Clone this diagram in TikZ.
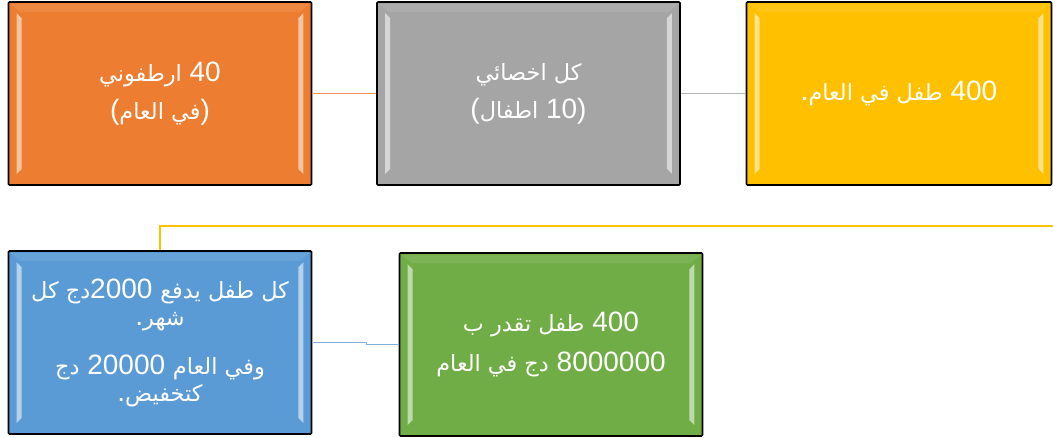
\documentclass[tikz,border=0pt]{standalone}
\usepackage{fontspec}
\setmainfont{Liberation Sans}
\newfontfamily\arfont[Script=Arabic,Scale=0.8]{DejaVu Sans}
\TeXXeTstate=1
\newcommand\AR[1]{{\arfont\beginR #1\endR}}
\usetikzlibrary{calc}
\definecolor{cOrange}{HTML}{ED7D31}
\definecolor{cGray}{HTML}{A5A5A5}
\definecolor{cYellow}{HTML}{FFC000}
\definecolor{cBlue}{HTML}{5B9BD5}
\definecolor{cGreen}{HTML}{70AD47}
\definecolor{connO}{RGB}{240,150,90}
\definecolor{connG}{RGB}{180,180,180}
\definecolor{connB}{RGB}{130,175,222}
\tikzset{
  boxnode/.style={draw=black, line width=1.6pt, rounded corners=1pt,
    minimum width=303pt, minimum height=183pt, inner sep=0pt,
    text=white, align=center, font=\fontsize{28}{32}\selectfont},
  link/.style={line width=1.5pt}
}
\begin{document}
\begin{tikzpicture}[x=1pt,y=-1pt]
\useasboundingbox (0,0) rectangle (1053,437);
\node[boxnode, fill=cOrange] (o) at (160,93.5) {\AR{ارطفوني} 40\\[6pt](\AR{في العام})};
\node[boxnode, fill=cGray] (g) at (528.5,93.5) {\AR{كل اخصائي}\\[6pt](\AR{اطفال} 10)};
\node[boxnode, fill=cYellow, minimum width=305pt] (y) at (899,93.5) {.\AR{طفل في العام} 400};
\node[boxnode, fill=cBlue, font=\fontsize{28}{27}\selectfont] (b) at (160,342.5) {\AR{دج كل}2000 \AR{كل طفل يدفع}\\.\AR{شهر}\\[22pt]\AR{دج} 20000 \AR{وفي العام}\\.\AR{كتخفيض}};
\node[boxnode, fill=cGreen] (gr) at (551,344.5) {\AR{طفل تقدر ب} 400\\[8pt]\AR{دج في العام} 8000000};
\foreach \n in {o,g,y,b,gr}{
  \fill[white, opacity=.55] ($(\n.north west)+(9,12)$) -- ++(5,5) -- ($(\n.south west)+(14,-17)$) -- ++(-5,5) -- cycle;
  \fill[white, opacity=.55] ($(\n.north east)+(-9,12)$) -- ++(-5,5) -- ($(\n.south east)+(-14,-17)$) -- ++(5,5) -- cycle;
  \fill[white, opacity=.08] ($(\n.north west)+(3,3)$) -- ($(\n.north east)+(-3,3)$) -- ++(-10,8) -- ($(\n.north west)+(13,11)$) -- cycle;
}
\coordinate (yend) at (1053,226);
\draw[link, draw=connO] (o.east) -- (g.west);
\draw[link, draw=connG] (g.east) -- (y.west);
\draw[link, draw=cYellow] (b.north) |- (yend);
\draw[link, draw=connB] (b.east) -- ++(54,0) |- (gr.west);
\end{tikzpicture}
\end{document}
